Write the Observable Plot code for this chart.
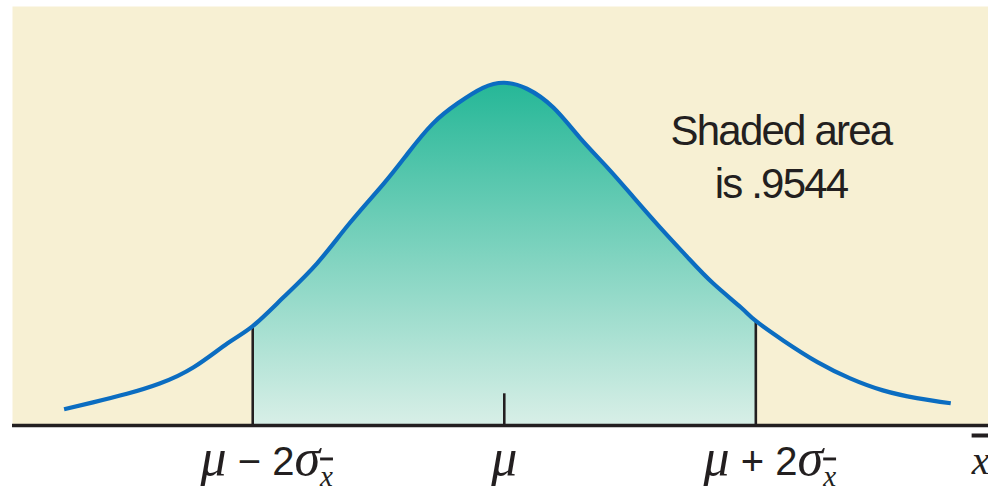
<!DOCTYPE html>
<html>
<head>
<meta charset="utf-8">
<script src="https://cdn.jsdelivr.net/npm/d3@7"></script>
<script src="https://cdn.jsdelivr.net/npm/@observablehq/plot@0.6"></script>
<style>
  html, body { margin: 0; padding: 0; background: #ffffff; }
  #chart { width: 988px; height: 490px; }
</style>
</head>
<body>
<div id="chart"></div>
<script>
// Sampling distribution of x̄: curve heights (z in σx̄ units from μ)
const zValues = [-3.5, -3.27, -3.0, -2.74, -2.47, -2.2, -2.0, -1.76, -1.49, -1.23, -0.96, -0.77, -0.57, -0.37, -0.17, 0,
                 0.18, 0.39, 0.6, 0.82, 1.03, 1.24, 1.46, 1.66, 1.88, 2.0, 2.22, 2.49, 2.75, 3.01, 3.28, 3.55];
const density = [0.019, 0.027, 0.037, 0.049, 0.068, 0.096, 0.116, 0.149, 0.189, 0.236, 0.282, 0.317, 0.352, 0.376, 0.394, 0.400,
                 0.393, 0.371, 0.336, 0.301, 0.266, 0.231, 0.196, 0.166, 0.138, 0.122, 0.099, 0.074, 0.055, 0.041, 0.032, 0.026];
const boundaryZ = [-2, 2];
const boundaryHeight = [0.116, 0.122];
const meanZ = [0];
const meanTickHeight = [0.037];
const tickValues = [-2, 0, 2];
const tickLabels = ["μ − 2σ", "μ", "μ + 2σ"];
const axisLabel = "x";
const annotationText = "Shaded area\nis .9544";

const curve = zValues.map((z, i) => ({z, d: density[i]}));
const shaded = curve.filter(p => p.z >= -2 && p.z <= 2);
const boundaries = boundaryZ.map((z, i) => ({z, d: boundaryHeight[i]}));
const meanTick = meanZ.map((z, i) => ({z, d: meanTickHeight[i]}));
const ticks = tickValues.map((v, i) => ({v, label: tickLabels[i]}));

const ink = "#231f20";
const serif = "'Liberation Serif', 'DejaVu Serif', serif";
const sans = "'Liberation Sans', Arial, sans-serif";

const gradientDefs = () => {
  const defs = d3.create("svg:defs");
  const g = defs.append("linearGradient").attr("id", "shade")
    .attr("x1", 0).attr("y1", 0).attr("x2", 0).attr("y2", 1);
  g.append("stop").attr("offset", "0%").attr("stop-color", "#25b797");
  g.append("stop").attr("offset", "100%").attr("stop-color", "#d8efe7");
  return defs.node();
};

const svg = Plot.plot({
  width: 988,
  height: 490,
  marginLeft: 12,
  marginRight: 0,
  marginTop: 6,
  marginBottom: 65,
  x: {domain: [-3.91, 3.85], axis: null},
  y: {domain: [0, 0.489], axis: null},
  style: {background: "#ffffff", color: ink},
  marks: [
    Plot.frame({fill: "#f7f0d3", stroke: "none"}),
    gradientDefs,
    Plot.areaY(shaded, {x: "z", y: "d", fill: "url(#shade)", curve: "natural"}),
    Plot.ruleX(boundaries, {x: "z", y1: 0, y2: "d", stroke: ink, strokeWidth: 2.6}),
    Plot.ruleX(meanTick, {x: "z", y1: 0, y2: "d", stroke: ink, strokeWidth: 2.6}),
    Plot.ruleY([0], {stroke: ink, strokeWidth: 3.6}),
    Plot.line(curve, {x: "z", y: "d", stroke: "#0b6dc1", strokeWidth: 4.2, curve: "natural", strokeLinecap: "butt"}),
    Plot.text(ticks.filter(t => t.v !== 0), {x: "v", y: 0, text: "label", dy: 49, dx: 14, lineAnchor: "bottom",
      textAnchor: "middle", fill: ink, fontSize: 40, fontFamily: sans}),
    Plot.text(ticks.filter(t => t.v === 0), {x: "v", y: 0, text: "label", dy: 49, dx: 0, lineAnchor: "bottom",
      textAnchor: "middle", fill: ink, fontSize: 40, fontFamily: sans}),
    Plot.text([annotationText], {x: 2.2, y: 0.37, text: d => d, lineAnchor: "top", textAnchor: "middle",
      fontSize: 42, lineHeight: 1.24, fontFamily: sans, fill: ink}),
    Plot.text([axisLabel], {frameAnchor: "bottom-right", dx: -8, dy: 48, lineAnchor: "bottom", textAnchor: "middle",
      fontSize: 40, fontFamily: serif, fontStyle: "italic", fill: ink})
  ]
});

// rich-text labels: italic Greek letters, upright sans operators, subscript x̄
const squash = s => s.replace(/\s+/g, "");
d3.select(svg).selectAll("text").each(function() {
  const t = d3.select(this);
  const s = this.textContent;
  if (tickLabels.includes(s)) {
    t.text(null);
    const parts = s.match(/[μσ]|[^μσ]+/g) || [];
    for (const p of parts) {
      const sp = t.append("tspan").text(p);
      if (p === "μ" || p === "σ") {
        sp.attr("font-family", serif).attr("font-style", "italic").attr("font-size", 52);
      } else {
        sp.attr("font-family", sans).attr("font-size", 40);
      }
    }
    if (s.includes("σ")) {
      t.append("tspan").text("x").attr("font-family", serif).attr("font-style", "italic")
        .attr("font-size", 29).attr("dy", 11).style("text-decoration", "overline");
    }
  } else if (s === axisLabel) {
    t.style("text-decoration", "overline");
  } else if (squash(s) === squash(annotationText)) {
    t.style("letter-spacing", "-1.8px");
  }
});

document.getElementById("chart").appendChild(svg);
</script>
</body>
</html>
